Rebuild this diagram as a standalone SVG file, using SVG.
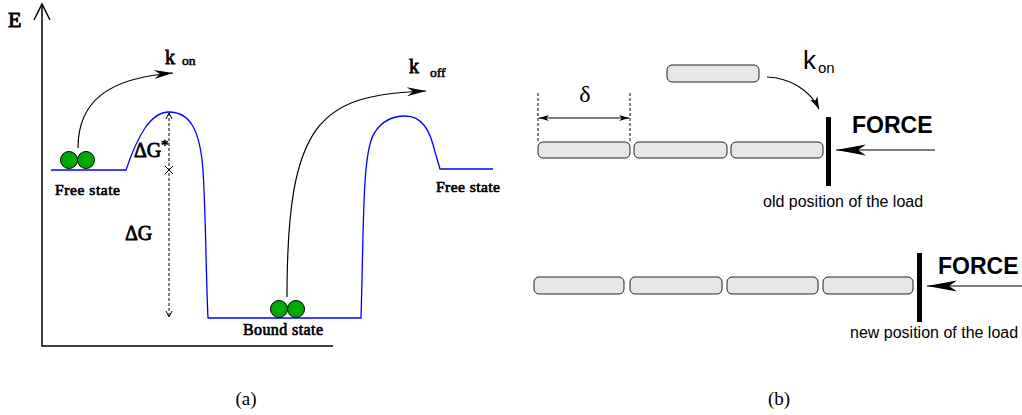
<svg xmlns="http://www.w3.org/2000/svg" width="1022" height="415" viewBox="0 0 1022 415">
<style>
.ser{font-family:"Liberation Serif","Times New Roman",serif;font-weight:normal;fill:#000}
.sb{font-family:"Liberation Serif","Times New Roman",serif;font-weight:normal;fill:#000;stroke:#000;stroke-width:0.7}
.sans{font-family:"Liberation Sans",Arial,sans-serif;fill:#000}
.land{fill:none;stroke:#0000ff;stroke-width:1.3}
.ax{fill:none;stroke:#000;stroke-width:1.5}
.curve{fill:none;stroke:#000;stroke-width:1.2}
.ball{fill:#00aa00;stroke:#000;stroke-width:1}
.rod{fill:#e6e6e6;stroke:#222;stroke-width:1}
.dash{fill:none;stroke:#000;stroke-width:1;stroke-dasharray:3,2}
.bar{fill:#000}
</style>
<defs>
<marker id="ahBig" viewBox="-20 -6 22 12" refX="0" refY="0" markerWidth="22" markerHeight="12" markerUnits="userSpaceOnUse" orient="auto">
<path d="M0,0 L-19,-4.5 L-13,0 L-19,4.5 Z" fill="#000"/>
</marker>
<marker id="ahSmall" viewBox="-14 -6 16 12" refX="0" refY="0" markerWidth="16" markerHeight="12" markerUnits="userSpaceOnUse" orient="auto">
<path d="M0,0 L-12,-4 L-9,0 L-12,4 Z" fill="#000"/>
</marker>
<marker id="ahDim" viewBox="-12 -5 14 10" refX="0" refY="0" markerWidth="14" markerHeight="10" markerUnits="userSpaceOnUse" orient="auto-start-reverse">
<path d="M0,0 L-10,-3 L-7,0 L-10,3 Z" fill="#000"/>
</marker>
<marker id="ahForce" viewBox="-32 -7 34 14" refX="0" refY="0" markerWidth="34" markerHeight="14" markerUnits="userSpaceOnUse" orient="auto">
<path d="M0,0 L-30,-5.5 L-22,0 L-30,5.5 Z" fill="#000"/>
</marker>
<marker id="ahOpen" viewBox="-8 -5 10 10" refX="0" refY="0" markerWidth="10" markerHeight="10" markerUnits="userSpaceOnUse" orient="auto-start-reverse">
<path d="M-6,-3 L0,0 L-6,3" fill="none" stroke="#000" stroke-width="1"/>
</marker>
</defs>

<!-- Panel (a) -->
<g id="axes">
<path class="ax" d="M42,4 V346 H333"/>
<path class="ax" d="M34,20 L42,4 L50,20"/>
<text class="sb" x="8" y="27" font-size="22" style="stroke-width:0.9">E</text>
</g>

<g id="landscape">
<path class="land" d="M51,170 H126 C130,158 137,140 145,128 C152,118 160,112 169,112 C190,112 200,130 203,170 C206,220 206,280 208,318 H361 C364,220 362,150 375,132 C385,117 398,116 405,116 C422,116 430,130 435,152 L440,169 H493"/>
</g>

<g id="free-state-left">
<circle class="ball" cx="69" cy="160" r="8.5"/>
<circle class="ball" cx="86" cy="160" r="8.5"/>
<text class="sb" x="55" y="195" font-size="15.5" textLength="65" lengthAdjust="spacing">Free state</text>
</g>

<g id="bound-state">
<circle class="ball" cx="279" cy="309" r="8.5"/>
<circle class="ball" cx="296" cy="309" r="8.5"/>
<text class="sb" x="243" y="335" font-size="16" textLength="80" lengthAdjust="spacing">Bound state</text>
</g>

<g id="free-state-right">
<text class="sb" x="436" y="192" font-size="15.5" textLength="64" lengthAdjust="spacing">Free state</text>
</g>

<g id="energy-labels">
<text class="sb" x="134" y="157" font-size="20" style="stroke-width:0.8">ΔG</text>
<text class="sb" x="161" y="150" font-size="15">*</text>
<text class="sb" x="125" y="240" font-size="20" style="stroke-width:0.8">ΔG</text>
<text class="sb" x="165" y="64" font-size="20" style="stroke-width:0.8">k</text>
<text class="sb" x="182" y="65" font-size="13.5" style="stroke-width:0.6">on</text>
<text class="sb" x="409" y="73" font-size="20" style="stroke-width:0.8">k</text>
<text class="sb" x="430" y="77" font-size="13.5" style="stroke-width:0.6">off</text>
</g>

<g id="connectors">
<path class="curve" d="M78,148 C78,100 110,78 173,73" marker-end="url(#ahBig)"/>
<path class="curve" d="M287,297 C287,120 320,95 426,91" marker-end="url(#ahBig)"/>
<path class="dash" d="M169,113 V317" marker-start="url(#ahOpen)" marker-end="url(#ahOpen)"/>
<path d="M165,166 L173,174 M173,166 L165,174" stroke="#000" stroke-width="1" fill="none"/>
<!-- panel b connectors -->
<path class="curve" d="M767,77 C790,78 810,90 819,109" marker-end="url(#ahSmall)"/>
<path class="curve" d="M935,150 H836" marker-end="url(#ahForce)"/>
<path class="curve" d="M1022,286 H927" marker-end="url(#ahForce)"/>
<path class="dash" d="M538,93 V142 M630,93 V142"/>
<path class="curve" d="M539,118 H629" marker-start="url(#ahDim)" marker-end="url(#ahDim)"/>
</g>

<text id="label-a" class="ser" x="246" y="405" font-size="19" text-anchor="middle">(a)</text>

<!-- Panel (b) -->
<g id="top-row">
<rect class="rod" x="538" y="142" width="92" height="16" rx="5"/>
<rect class="rod" x="634" y="142" width="93" height="16" rx="5"/>
<rect class="rod" x="731" y="142" width="92" height="16" rx="5"/>
</g>
<g id="new-monomer">
<rect class="rod" x="667" y="65" width="92" height="17" rx="5"/>
<text class="sans" x="803" y="69" font-size="26">k</text>
<text class="sans" x="818" y="73" font-size="15">on</text>
</g>
<g id="delta">
<text class="ser" x="585" y="102" font-size="24" text-anchor="middle">δ</text>
</g>
<g id="old-load">
<rect class="bar" x="826" y="117" width="5" height="69"/>
<text class="sans" x="852" y="133" font-size="23" font-weight="bold">FORCE</text>
<text class="sans" x="763" y="207" font-size="16">old position of the load</text>
</g>
<g id="bottom-row">
<rect class="rod" x="534" y="277" width="90" height="17" rx="5"/>
<rect class="rod" x="630" y="277" width="92" height="17" rx="5"/>
<rect class="rod" x="727" y="277" width="91" height="17" rx="5"/>
<rect class="rod" x="823" y="277" width="90" height="17" rx="5"/>
</g>
<g id="new-load">
<rect class="bar" x="917" y="253" width="5" height="69"/>
<text class="sans" x="938" y="274" font-size="23" font-weight="bold">FORCE</text>
<text class="sans" x="850" y="338" font-size="16">new position of the load</text>
</g>
<text id="label-b" class="ser" x="779" y="405" font-size="19" text-anchor="middle">(b)</text>
</svg>
